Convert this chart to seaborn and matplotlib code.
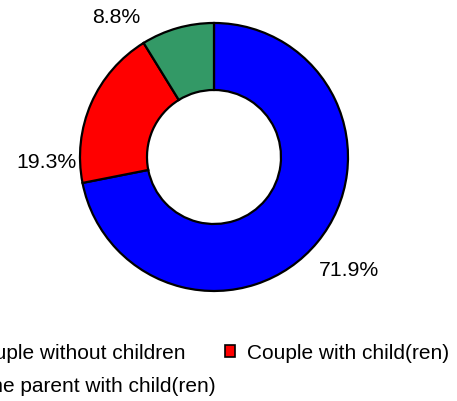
import matplotlib
matplotlib.use("Agg")
import matplotlib.pyplot as plt
import seaborn as sns
from matplotlib.patches import Patch

# datos del grafico
categorias = ["Couple without children", "Couple with child(ren)", "Lone parent with child(ren)"]
porcentajes = [71.9, 19.3, 8.8]
colores = ["#0000FF", "#FF0000", "#339966"]

sns.set_style("white")
plt.rcParams["font.family"] = ["Liberation Sans", "DejaVu Sans"]

fig = plt.figure(figsize=(4.57, 4.02), dpi=100)
ax = fig.add_axes([0.0724, 0.157, 0.7917, 0.9])

wedges, textos, autotextos = ax.pie(
    porcentajes, colors=colores, startangle=90, counterclock=False,
    autopct="%1.1f%%", pctdistance=1.3,
    wedgeprops=dict(width=0.5, edgecolor="black", linewidth=1.6),
    textprops=dict(fontsize=15.3, color="black"),
)
# posiciones de las etiquetas (a mano, como en la original)
pos_etiquetas = [(1.01, -0.84), (-1.25, -0.03), (-0.73, 1.05)]
for t, p in zip(autotextos, pos_etiquetas):
    t.set_position(p)
    t.set_ha("center")
    t.set_va("center")

ax.set_xlim(-1.35, 1.35)
ax.set_ylim(-1.35, 1.35)
ax.set_aspect("equal")
ax.axis("off")

# leyenda en orden de filas: azul, rojo / verde
orden = [0, 2, 1]
handles = [Patch(facecolor=colores[i], edgecolor="black", linewidth=1.2) for i in orden]
fig.legend(handles, [categorias[i] for i in orden], ncol=2, frameon=False,
           fontsize=15, handlelength=0.48, handleheight=0.48, handletextpad=0.55,
           columnspacing=0.46, labelspacing=0.64, borderpad=0,
           labelcolor="black",
           loc="upper left", bbox_to_anchor=(-64 / 457, 1 - 334 / 402))

fig.savefig("out.png", dpi=100)
